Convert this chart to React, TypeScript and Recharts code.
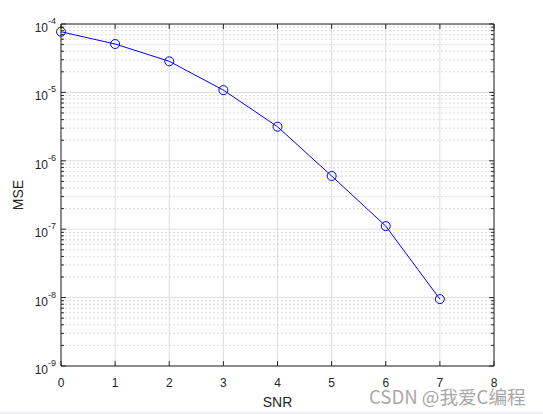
import { LineChart, Line, XAxis, YAxis, CartesianGrid, ReferenceLine } from 'recharts';

const snr = [0, 1, 2, 3, 4, 5, 6, 7];
const mse = [7.7e-5, 5.1e-5, 2.85e-5, 1.08e-5, 3.15e-6, 6.0e-7, 1.11e-7, 9.5e-9];
const xTicks = [0, 1, 2, 3, 4, 5, 6, 7, 8];
const yTicks = [1e-9, 1e-8, 1e-7, 1e-6, 1e-5, 1e-4];

const data = snr.map((s, i) => ({ snr: s, mse: mse[i] }));

// minor log values 2..9 x 10^k
const minorTicks: number[] = [];
yTicks.slice(0, -1).forEach((d) => {
  for (let k = 2; k <= 9; k++) minorTicks.push(k * d);
});

const FONT = '"Liberation Sans", Arial, sans-serif';
const AXIS = '#262626';

const LogTick = (props: any) => {
  const { x, y, payload } = props;
  const e = Math.round(Math.log10(payload.value));
  return (
    <text x={x} y={y} textAnchor="end" fill={AXIS} fontSize={12} fontFamily={FONT}>
      <tspan dy={8}>10</tspan>
      <tspan dy={-8} fontSize={9}>{e}</tspan>
    </text>
  );
};

export default function App() {
  return (
    <div style={{ position: 'absolute', left: 0, top: 0, width: 543, height: 414, background: '#fff' }}>
      <LineChart width={543} height={414} data={data} margin={{ top: 24, right: 49, left: 0, bottom: 0 }}>
        <CartesianGrid stroke="#dedede" strokeWidth={1} verticalValues={xTicks} horizontal={false} />
        {minorTicks.map((v) => (
          <ReferenceLine key={'m' + v} y={v} stroke="#dcdcdc" strokeDasharray="2 2" ifOverflow="hidden" />
        ))}
        {yTicks.map((v) => (
          <ReferenceLine key={'g' + v} y={v} stroke="#dedede" />
        ))}
        <XAxis
          dataKey="snr"
          type="number"
          domain={[0, 8]}
          ticks={xTicks}
          height={48}
          tickSize={0}
          tickMargin={12}
          tickLine={false}
          axisLine={{ stroke: AXIS }}
          tick={{ fill: AXIS, fontSize: 12, fontFamily: FONT }}
          label={{ value: 'SNR', position: 'insideBottom', offset: 7, fill: AXIS, fontSize: 14, fontFamily: FONT }}
        />
        <YAxis
          dataKey="mse"
          type="number"
          scale="log"
          domain={[1e-9, 1e-4]}
          allowDataOverflow
          ticks={yTicks}
          width={61}
          tickSize={0}
          tickMargin={5}
          tickLine={false}
          axisLine={{ stroke: AXIS }}
          tick={<LogTick />}
          label={{ value: 'MSE', angle: -90, position: 'insideLeft', offset: 18, fill: AXIS, fontSize: 14, fontFamily: FONT, style: { textAnchor: 'middle' } }}
        />
        {/* box */}
        <ReferenceLine y={1e-4} stroke={AXIS} />
        <ReferenceLine x={8} stroke={AXIS} />
        {/* inward ticks, left and right */}
        {yTicks.map((v) => (
          <ReferenceLine key={'tl' + v} segment={[{ x: 0, y: v }, { x: 0.09, y: v }]} stroke={AXIS} />
        ))}
        {yTicks.map((v) => (
          <ReferenceLine key={'tr' + v} segment={[{ x: 7.91, y: v }, { x: 8, y: v }]} stroke={AXIS} />
        ))}
        {minorTicks.map((v) => (
          <ReferenceLine key={'ml' + v} segment={[{ x: 0, y: v }, { x: 0.055, y: v }]} stroke={AXIS} />
        ))}
        {minorTicks.map((v) => (
          <ReferenceLine key={'mr' + v} segment={[{ x: 7.945, y: v }, { x: 8, y: v }]} stroke={AXIS} />
        ))}
        {xTicks.map((v) => (
          <ReferenceLine key={'tb' + v} segment={[{ x: v, y: 1e-9 }, { x: v, y: 1.18e-9 }]} stroke={AXIS} />
        ))}
        {xTicks.map((v) => (
          <ReferenceLine key={'tt' + v} segment={[{ x: v, y: 0.847e-4 }, { x: v, y: 1e-4 }]} stroke={AXIS} />
        ))}
        <Line
          type="linear"
          dataKey="mse"
          stroke="#0000ff"
          strokeWidth={1}
          dot={{ r: 4.5, stroke: '#0000ff', fill: 'none', strokeWidth: 1 }}
          isAnimationActive={false}
        />
      </LineChart>
      <div
        style={{
          position: 'absolute',
          left: 369,
          top: 384,
          fontSize: 18.6,
          color: '#a8a8a8',
          fontFamily: '"Noto Sans CJK SC", sans-serif',
          whiteSpace: 'nowrap',
          lineHeight: '24px',
        }}
      >
        CSDN @我爱C编程
      </div>
      <div style={{ position: 'absolute', left: 0, top: 412, width: 543, height: 2, background: '#eef0f4' }} />
    </div>
  );
}
